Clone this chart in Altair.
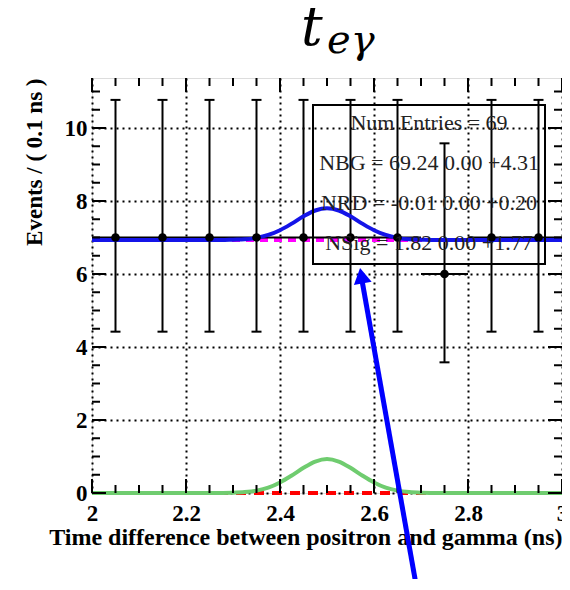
import altair as alt
import pandas as pd

# ---------------- data ----------------
bin_centers = [2.05, 2.15, 2.25, 2.35, 2.45, 2.55, 2.65, 2.75, 2.85, 2.95]
counts      = [7, 7, 7, 7, 7, 7, 7, 6, 7, 7]
err_lo      = [4.42, 4.42, 4.42, 4.42, 4.42, 4.42, 4.42, 3.58, 4.42, 4.42]
err_hi      = [10.77, 10.77, 10.77, 10.77, 10.77, 10.77, 10.77, 9.58, 10.77, 10.77]
bin_half    = 0.05

curve_x     = [2.0, 2.2, 2.25, 2.275, 2.3, 2.325, 2.35, 2.375, 2.4, 2.425, 2.45, 2.475, 2.5,
               2.525, 2.55, 2.575, 2.6, 2.625, 2.65, 2.675, 2.7, 2.725, 2.75, 2.8, 3.0]
signal_y    = [0.0, 0.0, 0.0, 0.002, 0.008, 0.025, 0.065, 0.146, 0.29, 0.48, 0.69, 0.86, 0.93,
               0.86, 0.69, 0.48, 0.29, 0.146, 0.065, 0.025, 0.008, 0.002, 0.0, 0.0, 0.0]
total_y     = [6.93, 6.93, 6.93, 6.93, 6.94, 6.95, 6.99, 7.07, 7.20, 7.38, 7.58, 7.74, 7.80,
               7.74, 7.58, 7.38, 7.20, 7.07, 6.99, 6.95, 6.94, 6.93, 6.93, 6.93, 6.93]
bg_level    = 6.93
rd_level    = 0.0

x_major = [2.0, 2.2, 2.4, 2.6, 2.8, 3.0]
x_minor = [2.05, 2.1, 2.15, 2.25, 2.3, 2.35, 2.45, 2.5, 2.55, 2.65, 2.7, 2.75, 2.85, 2.9, 2.95]
y_major = [0, 2, 4, 6, 8, 10]
y_minor = [0.5, 1, 1.5, 2.5, 3, 3.5, 4.5, 5, 5.5, 6.5, 7, 7.5, 8.5, 9, 9.5, 10.5, 11]

legend_lines = ["Num Entries = 69",
                "NBG = 69.24 0.00 +4.31",
                "NRD = -0.01 0.00 +0.20",
                "NSig = 1.82 0.00 +1.77"]
title_main = "t"
title_sub = "eγ"
x_title = "Time difference between positron and gamma (ns)"
y_title = "Events / ( 0.1 ns )"

# ---------------- layout ----------------
W, H = 470, 415
FONT = "Liberation Serif"

curve = pd.DataFrame({"x": curve_x, "sig": signal_y, "tot": total_y})
pts = pd.DataFrame({"x": bin_centers, "n": counts, "lo": err_lo, "hi": err_hi})
pts["xl"] = pts["x"] - bin_half
pts["xh"] = pts["x"] + bin_half
flat = pd.DataFrame({"x": [2.0, 3.0], "bg": [bg_level, bg_level], "rd": [rd_level, rd_level]})

xs = alt.Scale(domain=[2.0, 3.0], nice=False, zero=False)
ys = alt.Scale(domain=[0, 11.37], nice=False, zero=False)

x_axis = alt.Axis(values=x_major, labelExpr="format(datum.value, '.1~f')", labelFont=FONT,
                  labelFontWeight="bold", labelFontSize=23, labelColor="black", labelPadding=9,
                  labelFlush=False, ticks=False, domain=False, grid=True, gridDash=[2, 4],
                  gridColor="black", gridWidth=2, gridOpacity=1, title=x_title,
                  titleAnchor="end", titleFont=FONT, titleFontWeight="bold", titleFontSize=24,
                  titleColor="black", titlePadding=0, orient="bottom")
y_axis = alt.Axis(values=y_major, format="d", labelFont=FONT, labelFontWeight="bold",
                  labelFontSize=23, labelColor="black", labelPadding=5,
                  ticks=False, domain=False, grid=True, gridDash=[2, 4], gridColor="black",
                  gridWidth=2, gridOpacity=1, title=y_title, titleAnchor="end",
                  titleFont=FONT, titleFontWeight="bold", titleFontSize=23,
                  titleColor="black", titlePadding=18, orient="left")

# every layer carries the same axis definition so that the shared axes merge cleanly
X = lambda f: alt.X(f, scale=xs, axis=x_axis)
Y = lambda f: alt.Y(f, scale=ys, axis=y_axis)

red = alt.Chart(flat).mark_line(color="#ff0000", strokeWidth=4, strokeDash=[10, 8]).encode(
    x=X("x:Q"), y=Y("rd:Q"))
green = alt.Chart(curve).mark_line(color="#6fcc6f", strokeWidth=4, interpolate="monotone").encode(
    x=X("x:Q"), y=Y("sig:Q"))
mag = alt.Chart(flat).mark_line(color="#ff00ff", strokeWidth=4, strokeDash=[8, 6]).encode(
    x=X("x:Q"), y=Y("bg:Q"))
errv = alt.Chart(pts).mark_rule(color="black", strokeWidth=2).encode(
    x=X("x:Q"), y=Y("lo:Q"), y2="hi:Q")
caps_hi = alt.Chart(pts).mark_rule(color="black", strokeWidth=2, xOffset=-5, x2Offset=5).encode(
    x=X("x:Q"), x2="x:Q", y=Y("hi:Q"))
caps_lo = alt.Chart(pts).mark_rule(color="black", strokeWidth=2, xOffset=-5, x2Offset=5).encode(
    x=X("x:Q"), x2="x:Q", y=Y("lo:Q"))
errh = alt.Chart(pts).mark_rule(color="black", strokeWidth=2).encode(
    x=X("xl:Q"), x2="xh:Q", y=Y("n:Q"))
blue = alt.Chart(curve).mark_line(color="#1414e8", strokeWidth=4, interpolate="monotone").encode(
    x=X("x:Q"), y=Y("tot:Q"))
dots = alt.Chart(pts).mark_circle(color="black", size=75, opacity=1).encode(
    x=X("x:Q"), y=Y("n:Q"))

one = pd.DataFrame({"a": [0]})
box = alt.Chart(one).mark_rect(fill=None, stroke="black", strokeWidth=2).encode(
    x=alt.value(221), x2=alt.value(453), y=alt.value(27), y2=alt.value(186))
leg = pd.DataFrame({"t": ["\n".join(legend_lines)]})
leg_text = alt.Chart(leg).mark_text(font=FONT, fontSize=22, color="#222222", align="center",
                                    baseline="middle", lineBreak="\n", lineHeight=40).encode(
    x=alt.value(337), y=alt.value(45), text="t:N")

def tick_layer(vals, axis, length, side):
    d = pd.DataFrame({"v": vals})
    m = alt.Chart(d).mark_rule(color="black", strokeWidth=2)
    if axis == "x":
        enc = dict(x=X("v:Q"))
        if side == "bottom":
            enc.update(y=alt.value(H), y2=alt.value(H - length))
        else:
            enc.update(y=alt.value(0), y2=alt.value(length))
    else:
        enc = dict(y=Y("v:Q"))
        if side == "left":
            enc.update(x=alt.value(0), x2=alt.value(length))
        else:
            enc.update(x=alt.value(W), x2=alt.value(W - length))
    return m.encode(**enc)

ticks = [tick_layer(x_major, "x", 14, "bottom"), tick_layer(x_minor, "x", 8, "bottom"),
         tick_layer(x_major, "x", 14, "top"), tick_layer(x_minor, "x", 8, "top"),
         tick_layer(y_major, "y", 14, "left"), tick_layer(y_minor, "y", 8, "left"),
         tick_layer(y_major, "y", 14, "right"), tick_layer(y_minor, "y", 8, "right")]

arrow_line = alt.Chart(one).mark_rule(color="#0000ff", strokeWidth=5).encode(
    x=alt.value(325), y=alt.value(512), x2=alt.value(269.4), y2=alt.value(199))
arrow_head = alt.Chart(one).mark_point(shape="triangle-up", filled=True, size=324, angle=350,
                                       color="#0000ff", opacity=1).encode(
    x=alt.value(269.4), y=alt.value(197.7))

tdf = pd.DataFrame({"m": [title_main], "s": [title_sub]})
t_main = alt.Chart(tdf).mark_text(font="DejaVu Serif", fontStyle="italic", fontSize=54,
                                  align="left", baseline="alphabetic", color="black").encode(
    x=alt.value(209), y=alt.value(-33), text="m:N")
t_sub = alt.Chart(tdf).mark_text(font="DejaVu Serif", fontStyle="italic", fontSize=40,
                                 align="left", baseline="alphabetic", color="black").encode(
    x=alt.value(235), y=alt.value(-25), text="s:N")

chart = alt.layer(red, green, mag, errv, caps_hi, caps_lo, errh, blue, dots, box, leg_text,
                  *ticks, arrow_line, arrow_head, t_main, t_sub).properties(
    width=W, height=H,
    autosize=alt.AutoSizeParams(type="none"),
    padding={"left": 84, "top": 70, "right": 0, "bottom": 86},
).configure_view(stroke="black", strokeWidth=3).configure(background="white")

chart.save("out.html", embed_options={"renderer": "svg", "actions": False})
